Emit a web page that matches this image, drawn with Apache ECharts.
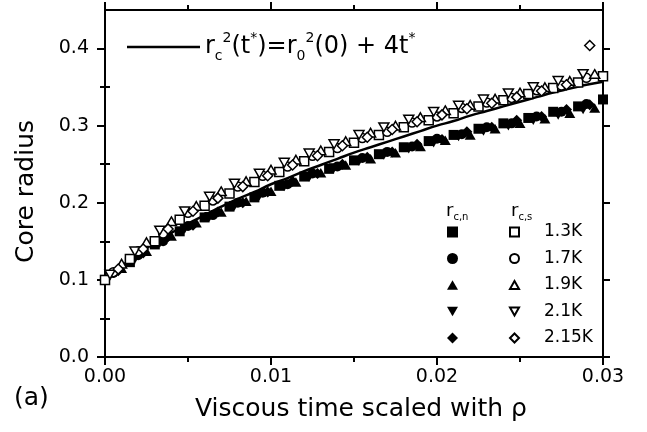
<!DOCTYPE html>
<html>
<head>
<meta charset="utf-8">
<script src="https://cdn.jsdelivr.net/npm/echarts@6/dist/echarts.min.js"></script>
<style>
html,body{margin:0;padding:0;background:#fff;}
#chart{width:647px;height:432px;}
</style>
</head>
<body>
<div id="chart"></div>
<script>
// ---- data ----
const xTicks = [0, 0.01, 0.02, 0.03];
const yTicksMajor = [0, 0.1, 0.2, 0.3, 0.4];
const yTicksMinor = [0.05, 0.15, 0.25, 0.35];
const tempLabels = ['1.3K', '1.7K', '1.9K', '2.1K', '2.15K'];

const fitT = [0,0.001,0.002,0.003,0.004,0.005,0.006,0.007,0.008,0.009,0.010,0.011,0.012,0.013,0.014,0.015,0.016,0.017,0.018,0.019,0.020,0.021,0.022,0.023,0.024,0.025,0.026,0.027,0.028,0.029,0.030];
const fitR = [0.100,0.118,0.134,0.148,0.161,0.173,0.184,0.195,0.205,0.214,0.224,0.232,0.241,0.249,0.257,0.265,0.272,0.279,0.286,0.293,0.300,0.306,0.313,0.319,0.325,0.331,0.337,0.343,0.348,0.353,0.357];

const t13 = [0,0.0015,0.003,0.0045,0.006,0.0075,0.009,0.0105,0.012,0.0135,0.015,0.0165,0.018,0.0195,0.021,0.0225,0.024,0.0255,0.027,0.0285,0.030];
const n13 = [0.100,0.123,0.146,0.163,0.181,0.195,0.207,0.222,0.234,0.244,0.255,0.263,0.272,0.280,0.288,0.296,0.303,0.310,0.318,0.325,0.334];
const s13 = [0.100,0.127,0.150,0.178,0.196,0.212,0.227,0.240,0.254,0.266,0.278,0.288,0.298,0.307,0.316,0.325,0.333,0.341,0.349,0.356,0.364];

const t17 = [0.0005,0.002,0.0035,0.005,0.0065,0.008,0.0095,0.011,0.0125,0.014,0.0155,0.017,0.0185,0.020,0.0215,0.023,0.0245,0.026,0.0275,0.029];
const n17 = [0.109,0.132,0.150,0.170,0.184,0.200,0.213,0.224,0.238,0.247,0.258,0.266,0.273,0.283,0.289,0.298,0.303,0.312,0.318,0.328];
const s17 = [0.110,0.137,0.160,0.187,0.203,0.221,0.235,0.247,0.261,0.271,0.284,0.292,0.304,0.312,0.323,0.330,0.336,0.346,0.352,0.362];

const t19 = [0.001,0.0025,0.004,0.0055,0.007,0.0085,0.010,0.0115,0.013,0.0145,0.016,0.0175,0.019,0.0205,0.022,0.0235,0.025,0.0265,0.028,0.0295];
const n19 = [0.115,0.137,0.157,0.174,0.188,0.202,0.215,0.227,0.239,0.249,0.257,0.265,0.273,0.281,0.288,0.296,0.303,0.309,0.316,0.323];
const s19 = [0.121,0.149,0.176,0.196,0.215,0.228,0.243,0.256,0.268,0.280,0.291,0.300,0.311,0.320,0.327,0.335,0.343,0.350,0.358,0.367];

const t21 = [0.0003,0.0018,0.0033,0.0048,0.0063,0.0078,0.0093,0.0108,0.0123,0.0138,0.0153,0.0168,0.0183,0.0198,0.0213,0.0228,0.0243,0.0258,0.0273,0.0288];
const n21 = [0.105,0.127,0.148,0.166,0.182,0.196,0.209,0.221,0.233,0.245,0.254,0.262,0.270,0.278,0.286,0.293,0.300,0.307,0.314,0.321];
const s21 = [0.107,0.137,0.164,0.189,0.208,0.225,0.238,0.252,0.264,0.276,0.288,0.298,0.308,0.318,0.326,0.334,0.342,0.350,0.358,0.367];

const t215 = [0.0008,0.0023,0.0038,0.0053,0.0068,0.0083,0.0098,0.0113,0.0128,0.0143,0.0158,0.0173,0.0188,0.0203,0.0218,0.0233,0.0248,0.0263,0.0278,0.0292];
const n215 = [0.112,0.135,0.156,0.171,0.188,0.200,0.214,0.228,0.238,0.250,0.259,0.266,0.276,0.282,0.292,0.298,0.307,0.312,0.321,0.327];
const s215 = [0.114,0.140,0.166,0.189,0.206,0.221,0.235,0.249,0.261,0.274,0.285,0.295,0.305,0.314,0.322,0.329,0.337,0.345,0.353,0.404];

// ---- build ----
const FONT = 'DejaVu Sans';
const zip = (a, b) => a.map((v, i) => [v, b[i]]);
const DOWN = 'path://M0,0L10,0L5,8.66Z';
const UP = 'path://M5,0L10,8.66L0,8.66Z';
const temps = [
  {key:'13', label:tempLabels[0], t:t13, n:n13, s:s13, sym:'rect', icon:'rect', size:10},
  {key:'17', label:tempLabels[1], t:t17, n:n17, s:s17, sym:'circle', icon:'circle', size:10},
  {key:'19', label:tempLabels[2], t:t19, n:n19, s:s19, sym:UP, icon:UP, size:11},
  {key:'21', label:tempLabels[3], t:t21, n:n21, s:s21, sym:DOWN, icon:DOWN, size:11},
  {key:'215', label:tempLabels[4], t:t215, n:n215, s:s215, sym:'diamond', icon:'diamond', size:11}
];
const labelMap = {};
const series = [];
temps.forEach(T => {
  labelMap['n' + T.key] = T.label;
  series.push({
    name: 'n' + T.key, type: 'scatter', symbol: T.sym, symbolSize: T.size, symbolKeepAspect: true,
    data: zip(T.t, T.n), itemStyle: {color: '#000', opacity: 1}, z: 3
  });
});
series.push({
  name: 'fit', type: 'line', symbol: 'none', showSymbol: false, smooth: true, color: '#000',
  data: zip(fitT, fitR), lineStyle: {color: '#000', width: 2.5}, itemStyle: {color: '#000'}, z: 4
});
temps.forEach(T => {
  labelMap['s' + T.key] = T.label;
  series.push({
    name: 's' + T.key, type: 'scatter', symbol: T.sym, symbolSize: T.size - 1, symbolKeepAspect: true,
    data: zip(T.t, T.s), itemStyle: {color: '#fff', borderColor: '#000', borderWidth: 1.5, opacity: 1}, z: 5
  });
});

const axisLineStyle = {color: '#000', width: 2};
const commonX = {
  type: 'value', min: 0, max: 0.03, interval: 0.01,
  axisLine: {show: true, onZero: false, lineStyle: axisLineStyle},
  axisTick: {show: true, length: 8, lineStyle: axisLineStyle},
  minorTick: {show: true, splitNumber: 2, length: 5, lineStyle: axisLineStyle},
  splitLine: {show: false}
};
const yBase = {
  type: 'value', min: 0, max: 0.45, interval: 0.05,
  splitLine: {show: false}
};

const option = {
  animation: false,
  backgroundColor: '#fff',
  textStyle: {fontFamily: FONT},
  grid: {left: 105, right: 44, top: 10, bottom: 75},
  xAxis: [
    Object.assign({}, commonX, {
      position: 'bottom',
      name: 'Viscous time scaled with ρ', nameLocation: 'middle', nameGap: 40,
      nameTextStyle: {fontFamily: FONT, fontSize: 25, color: '#000', padding: [0, 0, 0, 14]},
      axisLabel: {show: true, margin: 11, fontFamily: FONT, fontSize: 19, color: '#000',
        customValues: xTicks, formatter: v => v.toFixed(2)}
    }),
    Object.assign({}, commonX, {position: 'top', axisLabel: {show: false}})
  ],
  yAxis: [
    Object.assign({}, yBase, {
      position: 'left',
      name: 'Core radius', nameLocation: 'middle', nameGap: 66,
      nameTextStyle: {fontFamily: FONT, fontSize: 25, color: '#000', padding: [0, 0, 0, -16]},
      axisLine: {show: true, onZero: false, lineStyle: axisLineStyle},
      axisTick: {show: true, length: 8, lineStyle: axisLineStyle, customValues: yTicksMajor},
      axisLabel: {show: true, margin: 16, fontFamily: FONT, fontSize: 19, color: '#000',
        customValues: yTicksMajor, formatter: v => v.toFixed(1)}
    }),
    Object.assign({}, yBase, {
      position: 'left',
      axisLine: {show: false},
      axisTick: {show: true, length: 5, lineStyle: axisLineStyle, customValues: yTicksMinor},
      axisLabel: {show: false}
    }),
    Object.assign({}, yBase, {
      position: 'right',
      axisLine: {show: true, onZero: false, lineStyle: axisLineStyle},
      axisTick: {show: true, length: 7, lineStyle: axisLineStyle, customValues: yTicksMajor},
      axisLabel: {show: false}
    }),
    Object.assign({}, yBase, {
      position: 'right',
      axisLine: {show: false},
      axisTick: {show: true, length: 5, lineStyle: axisLineStyle, customValues: yTicksMinor},
      axisLabel: {show: false}
    })
  ],
  legend: [
    {
      data: temps.map(T => ({name: 'n' + T.key, icon: T.icon})), orient: 'vertical', left: 447, top: 222,
      itemWidth: 11, itemHeight: 11, itemGap: 6.5, padding: 0, symbolKeepAspect: true,
      selectedMode: false,
      formatter: name => labelMap[name],
      textStyle: {fontFamily: FONT, fontSize: 17, lineHeight: 20, color: 'rgba(0,0,0,0)'}
    },
    {
      data: temps.map(T => ({name: 's' + T.key, icon: T.icon})), orient: 'vertical', left: 509, top: 222,
      itemWidth: 9, itemHeight: 9, itemGap: 6.5, padding: 0, symbolKeepAspect: true,
      selectedMode: false,
      formatter: name => labelMap[name],
      textStyle: {fontFamily: FONT, fontSize: 17, lineHeight: 20, color: '#000', padding: [0, 0, 0, 20]}
    },
    {
      data: [{name: 'fit', icon: 'rect'}], left: 127, top: 31, itemWidth: 73, itemHeight: 2.5, padding: 0,
      selectedMode: false,
      formatter: () => '{m|r}{sb|c}{sp|2}{m|(t}{sp|*}{m|)=r}{sb|0}{sp|2}{m|(0) + 4t}{sp|*}',
      textStyle: {
        fontFamily: FONT, color: '#000',
        rich: {
          m: {fontFamily: FONT, fontSize: 24, lineHeight: 32, color: '#000', verticalAlign: 'middle'},
          sb: {fontFamily: FONT, fontSize: 14, lineHeight: 14, color: '#000', verticalAlign: 'bottom'},
          sp: {fontFamily: FONT, fontSize: 14, lineHeight: 14, color: '#000', verticalAlign: 'top'}
        }
      }
    }
  ],
  graphic: [
    {type: 'text', left: 446, top: 202, style: {
      text: '{m|r}{s|c,n}', rich: {
        m: {fontFamily: FONT, fontSize: 18, lineHeight: 20, fill: '#000', verticalAlign: 'top'},
        s: {fontFamily: FONT, fontSize: 10, lineHeight: 10, fill: '#000', verticalAlign: 'bottom'}
      }}},
    {type: 'text', left: 511, top: 202, style: {
      text: '{m|r}{s|c,s}', rich: {
        m: {fontFamily: FONT, fontSize: 18, lineHeight: 20, fill: '#000', verticalAlign: 'top'},
        s: {fontFamily: FONT, fontSize: 10, lineHeight: 10, fill: '#000', verticalAlign: 'bottom'}
      }}},
    {type: 'text', left: 14, top: 386, style: {text: '(a)', fontFamily: FONT, fontSize: 25, fill: '#000'}}
  ],
  series: series
};

const chart = echarts.init(document.getElementById('chart'), null, {renderer: 'canvas'});
chart.setOption(option);
</script>
</body>
</html>
